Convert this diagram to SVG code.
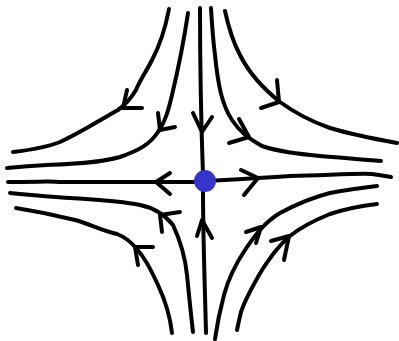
<svg xmlns="http://www.w3.org/2000/svg" width="399" height="341" viewBox="0 0 399 341">
<style>
.c{fill:none;stroke:#000;stroke-width:4;stroke-linecap:round;stroke-linejoin:round}
</style>
<rect width="399" height="341" fill="#fff"/>
<g id="connectors">
<!-- top-left curves -->
<path class="c" d="M169,9 C165,30 160,45 152,60 C146,72 140,80 136,90 C130,100 125,105 118,110 C100,120 80,133 60,142 C45,148 30,150 13,152"/>
<path class="c" d="M127,90 L123,108 L142,108"/>
<path class="c" d="M188,13 C184,40 178,70 172,95 C168,112 165,122 158,132 C150,144 140,150 120,157 C100,163 70,164 47,165 C30,166 18,167 7,168"/>
<path class="c" d="M158,113 L160,130 L175,127"/>
<!-- top-right curves -->
<path class="c" d="M211,8 C212,25 213,40 215,55 C218,85 222,105 232,120 C240,132 248,138 262,146 C280,152 300,154 320,156 C345,158 365,160 381,161"/>
<path class="c" d="M239,119 L249,137 L229,143"/>
<path class="c" d="M225,11 C228,25 232,40 240,55 C250,75 265,90 280,102 C295,113 310,121 330,128 C350,134 375,139 397,143"/>
<path class="c" d="M277,80 L279,102 L261,108"/>
<!-- bottom-left curves -->
<path class="c" d="M10,193 C30,195 50,197 70,198 C100,200 120,201 140,205 C155,208 165,215 173,225 C180,240 185,255 187,275 C189,295 191,315 193,332"/>
<path class="c" d="M180,212 L160,215 L162,232"/>
<path class="c" d="M16,208 C35,211 55,215 75,220 C90,224 100,230 117,234 C125,237 130,241 136,248 C145,258 150,268 158,285 C165,300 170,315 172,333"/>
<path class="c" d="M153,247 L135,247 L138,265"/>
<!-- bottom-right curves -->
<path class="c" d="M377,186 C360,188 345,190 330,193 C310,198 295,205 280,213 C265,222 255,235 245,250 C235,265 228,280 224,295 C220,310 217,325 215,339"/>
<path class="c" d="M246,232 L261,227 L256,243"/>
<path class="c" d="M377,204 C360,206 345,209 330,214 C315,220 300,228 290,236 C278,246 270,258 262,270 C252,287 245,300 241,312 C239,320 238,325 237,330"/>
<path class="c" d="M271,241 L289,236 L284,260"/>
<!-- axes -->
<path class="c" d="M200,8 C200,60 201,120 203,175"/>
<path class="c" d="M193,113 L202,132 L212,117"/>
<path class="c" d="M203,188 C203,240 205,290 206,333"/>
<path class="c" d="M197,236 L202,220 L212,238"/>
<path class="c" d="M8,182 C40,182 50,181 58,182 C100,182 160,182 200,182"/>
<path class="c" d="M170,173 L156,182 L170,194"/>
<path class="c" d="M205,181 C230,180 260,178 290,176 C330,175 360,173 372,174 C380,175 386,176 391,177"/>
<path class="c" d="M241,170 L258,178 L244,195"/>
</g>
<g id="saddle">
<circle cx="205" cy="181" r="11" fill="#3535cc"/>
</g>
</svg>
